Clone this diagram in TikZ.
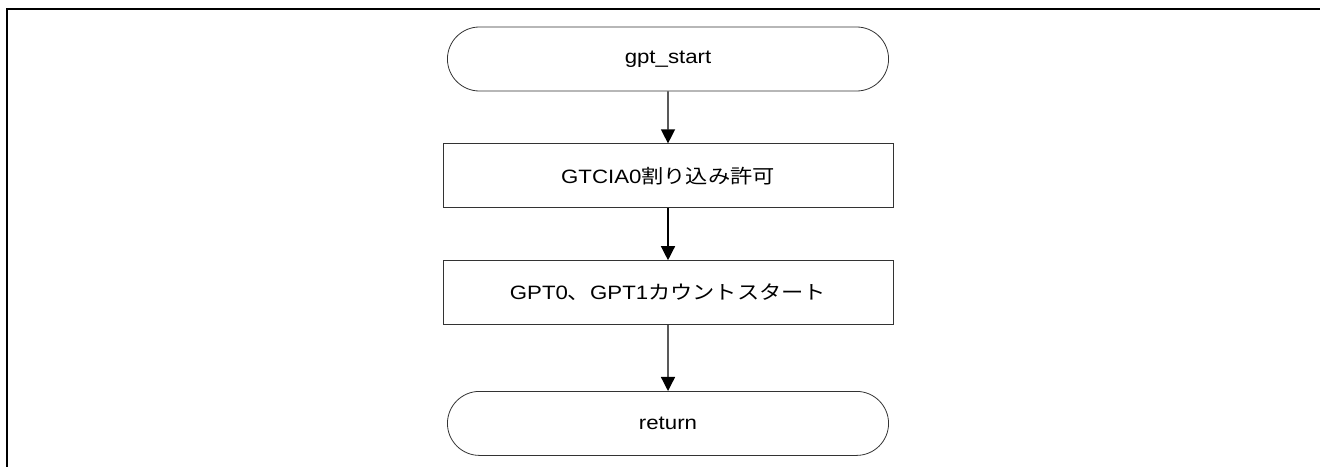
\documentclass[tikz,border=0pt]{standalone}
\usepackage{fontspec}
\setmainfont{Liberation Sans}[FakeStretch=1.15]
\newfontfamily\jpfont{Noto Sans CJK JP}[FakeStretch=1.15]
\usetikzlibrary{positioning,shapes.misc,arrows.meta}
\tikzset{%
  tnode/.style={%
    draw=black!80,
    line width=0.6pt,
    rounded rectangle,
    minimum width=337.5pt,
    minimum height=48pt,
    font=\fontsize{14.5}{17}\selectfont%
  },
  pnode/.style={%
    tnode,
    rectangle
  },
  flow/.style={%
    line width=1pt,
    -{Triangle[width=10.5pt,length=10.5pt]}%
  }
}

\begin{document}
\begin{tikzpicture}[x=0.75pt, y=-0.75pt, node distance=39pt]
  \useasboundingbox (0,0) rectangle (1320,467);
  \draw[line width=1.6pt] (7,467) |- (1320,9);

  \node[tnode]                   (start) at (668,59) {gpt\_start};
  \node[pnode, below = of start] (irq) {GTCIA0{\jpfont 割り込み許可}};
  \node[pnode, below = of irq]   (cnt) {GPT0{\jpfont 、}GPT1{\jpfont カウントスタート}};
  \node[tnode, below = 49.5pt of cnt] (ret) {return};

  \path[flow]
    (start) edge (irq)
    (irq) edge (cnt)
    (cnt) edge (ret);
\end{tikzpicture}
\end{document}
